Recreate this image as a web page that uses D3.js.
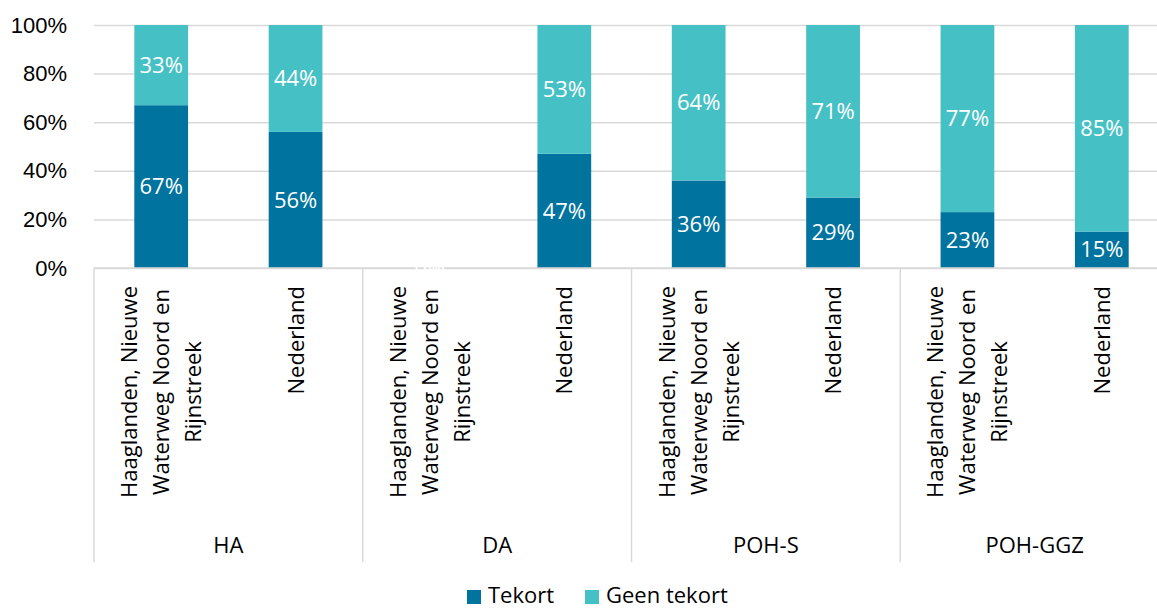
<!DOCTYPE html>
<html>
<head>
<meta charset="utf-8">
<script src="https://cdn.jsdelivr.net/npm/d3@7"></script>
<style>
  html, body { margin: 0; padding: 0; background: #fff; }
  svg { display: block; font-family: 'Open Sans', sans-serif; }
</style>
</head>
<body>
<div id="chart"></div>
<script>
// Data
const groups = ['HA', 'DA', 'POH-S', 'POH-GGZ'];
const regions = ['Haaglanden, Nieuwe Waterweg Noord en Rijnstreek', 'Nederland'];
const regionLines = [['Haaglanden, Nieuwe', 'Waterweg Noord en', 'Rijnstreek'], ['Nederland']];
const tekort = [67, 56, 0, 47, 36, 29, 23, 15];
const geenTekort = [33, 44, 0, 53, 64, 71, 77, 85];
const yTicks = [0, 20, 40, 60, 80, 100];
const seriesNames = ['Tekort', 'Geen tekort'];
const colours = { tekort: '#00739f', geen: '#45c1c5', grid: '#d9d9d9', text: '#000' };

const w = 1157;
const h = 608;
const margin = { top: 25, right: -12, bottom: 340, left: 94 };
const fs = 22;

// one row per bar
const rows = tekort.map((t, i) => ({
  key: i,
  group: groups[Math.floor(i / 2)],
  region: i % 2,
  tekort: t,
  geen: geenTekort[i]
}));

const svg = d3.select('#chart')
  .append('svg')
  .attr('width', w)
  .attr('height', h);

// Scales
const xScale = d3.scaleBand()
  .domain(rows.map(d => d.key))
  .range([margin.left, w - margin.right])
  .paddingInner(0.6)
  .paddingOuter(0.3);

const yScale = d3.scaleLinear()
  .domain([0, 100])
  .range([h - margin.bottom, margin.top]);

const step = xScale.step();
const x0 = margin.left;
const baseY = yScale(0);

// y axis with gridlines
const yAxis = d3.axisLeft(yScale)
  .tickValues(yTicks)
  .tickFormat(d => d + '%')
  .tickPadding(27)
  .tickSize(-(w - margin.left + 20));

svg.append('g')
  .classed('y-axis', true)
  .attr('transform', `translate(${margin.left}, 0)`)
  .call(yAxis);

svg.select('.y-axis .domain').remove();
svg.selectAll('.y-axis .tick line')
  .attr('stroke', colours.grid)
  .attr('stroke-width', 1.5);
svg.selectAll('.y-axis .tick text')
  .attr('fill', colours.text)
  .attr('font-size', fs);

// stacked bars
const stack = d3.stack().keys(['tekort', 'geen'])(rows);
const fills = [colours.tekort, colours.geen];

stack.forEach((layer, li) => {
  svg.append('g')
    .selectAll('rect')
    .data(layer)
    .join('rect')
      .attr('x', d => xScale(d.data.key))
      .attr('width', xScale.bandwidth())
      .attr('y', d => yScale(d[1]))
      .attr('height', d => yScale(d[0]) - yScale(d[1]))
      .attr('fill', fills[li]);
});

// x axis baseline and group separators
svg.append('line')
  .attr('x1', x0).attr('x2', w)
  .attr('y1', baseY).attr('y2', baseY)
  .attr('stroke', colours.grid)
  .attr('stroke-width', 1.5);

// segment labels
stack.forEach((layer, li) => {
  svg.append('g')
    .selectAll('text')
    .data(layer.filter(d => li === 0 || d[1] > d[0]))
    .join('text')
      .attr('x', d => xScale(d.data.key) + xScale.bandwidth() / 2)
      .attr('y', d => (yScale(d[0]) + yScale(d[1])) / 2)
      .attr('dy', '0.35em')
      .attr('text-anchor', 'middle')
      .attr('fill', '#fff')
      .attr('font-size', fs)
      .text(d => (d[1] - d[0]) + '%');
});

const groupEdges = d3.range(groups.length + 1).map(i => x0 + i * step * 2);
svg.append('g')
  .selectAll('line')
  .data(groupEdges)
  .join('line')
    .attr('x1', d => d).attr('x2', d => d)
    .attr('y1', baseY).attr('y2', 562)
    .attr('stroke', colours.grid)
    .attr('stroke-width', 1.5);

// region labels, rotated, lines centred on the longest one
const labelTop = baseY + 18;
rows.forEach(d => {
  const lines = regionLines[d.region];
  const cx = xScale(d.key) + xScale.bandwidth() / 2;
  const lh = 32;
  const g = svg.append('g');
  const texts = g.selectAll('text')
    .data(lines)
    .join('text')
      .attr('font-size', fs)
      .attr('fill', colours.text)
      .attr('text-anchor', 'middle')
      .text(t => t);
  const maxLen = d3.max(texts.nodes(), n => n.getComputedTextLength());
  const cy = labelTop + maxLen / 2;
  texts.attr('transform', (t, i) => {
    const lx = cx + (i - (lines.length - 1) / 2) * lh;
    return `translate(${lx + 8}, ${cy}) rotate(-90)`;
  });
});

// group labels
svg.append('g')
  .selectAll('text')
  .data(groups)
  .join('text')
    .attr('x', (d, i) => x0 + (i + 0.5) * step * 2)
    .attr('y', 553)
    .attr('text-anchor', 'middle')
    .attr('font-size', fs)
    .attr('fill', colours.text)
    .text(d => d);

// legend
const legend = svg.append('g').attr('transform', 'translate(467, 589)');
const legendX = [0, 118];
seriesNames.forEach((name, i) => {
  legend.append('rect')
    .attr('x', legendX[i]).attr('y', 1)
    .attr('width', 14).attr('height', 14)
    .attr('fill', fills[i]);
  legend.append('text')
    .attr('x', legendX[i] + 21).attr('y', 14)
    .attr('font-size', 22)
    .attr('fill', colours.text)
    .text(name);
});
</script>
</body>
</html>
